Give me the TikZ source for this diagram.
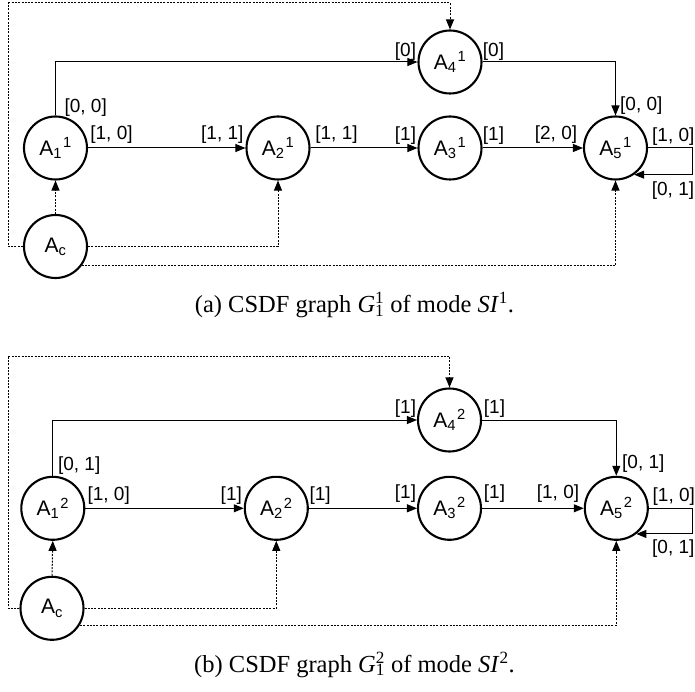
\RequirePackage{fix-cm}
\documentclass[tikz,border=0pt]{standalone}
\usepackage{fontspec}
\newfontfamily\labfont{Liberation Sans}
\newfontfamily\capfont{Liberation Serif}
\usetikzlibrary{arrows.meta}
\newcommand{\stackscr}[2]{\makebox[0pt][l]{\textsuperscript{#1}}\textsubscript{#2}}
\begin{document}
\begin{tikzpicture}[x=1pt,y=-1pt,
  actor/.style={circle,draw,line width=2.1pt,minimum size=63pt,inner sep=0pt,font=\labfont\fontsize{21}{24}\selectfont},
  edge/.style={line width=1pt,-{Triangle[length=10pt,width=8pt]}},
  ctrl/.style={edge,dash pattern=on 2pt off 1.3pt},
  ctrlline/.style={line width=1pt,dash pattern=on 2pt off 1.3pt},
  lab/.style={inner sep=0pt,font=\labfont\fontsize{19}{22}\selectfont},
  captext/.style={inner sep=0pt,anchor=base,font=\capfont\fontsize{24.5}{28}\selectfont}]
\useasboundingbox (0,0) rectangle (695,692);

% ---------- graph (a) ----------
\node[actor] (a1) at (55.5,148) {A\textsubscript{1}\kern1pt\textsuperscript{1}};
\node[actor] (a2) at (278,148) {A\textsubscript{2}\kern1pt\textsuperscript{1}};
\node[actor] (a3) at (450,148) {A\textsubscript{3}\kern1pt\textsuperscript{1}};
\node[actor] (a4) at (450,62) {A\textsubscript{4}\kern1pt\textsuperscript{1}};
\node[actor] (a5) at (615.5,148) {A\textsubscript{5}\kern1pt\textsuperscript{1}};
\node[actor] (ac) at (55.5,246.5) {A\textsubscript{c}};
\coordinate (atl) at (8.3,3);
\coordinate (aloop) at (692.3,148);

\draw[edge] (a1.east) -- (a2.west);
\draw[edge] (a2.east) -- (a3.west);
\draw[edge] (a3.east) -- (a5.west);
\draw[edge] (a1.north) |- (a4.west);
\draw[edge] (a4.east) -| (a5.north);
\draw[edge] (a5.east) -- (aloop) |- (a5.-55);
\draw[ctrl] (ac.north) -- (a1.south);
\draw[ctrl] (ac.east) -| (a2.south);
\draw[ctrl] (ac.-36) -| (a5.south);
\draw[ctrlline] (ac.west) -| (atl);
\draw[ctrl] (atl) -| (a4.north);

\node[lab] (la1) at (85.7,107.5) {[0, 0]};
\node[lab] (la2) at (111.5,134.7) {[1, 0]};
\node[lab] (la3) at (222.3,134.7) {[1, 1]};
\node[lab] (la4) at (336.5,134.7) {[1, 1]};
\node[lab] (la5) at (405.5,135.3) {[1]};
\node[lab] (la6) at (493.5,135.3) {[1]};
\node[lab] (la7) at (556,135) {[2, 0]};
\node[lab] (la8) at (405.5,51.7) {[0]};
\node[lab] (la9) at (493.5,51.7) {[0]};
\node[lab] (la10) at (641.3,105.8) {[0, 0]};
\node[lab] (la11) at (673.3,136.5) {[1, 0]};
\node[lab] (la12) at (673,190.8) {[0, 1]};

\node[captext] (capa) at (354.5,312.7) {(a)\ CSDF graph \textit{G}\stackscr{1}{1} of mode \textit{SI}\textsuperscript{1}.};

% ---------- graph (b) ----------
\node[actor] (b1) at (52.8,508.3) {A\textsubscript{1}\kern1pt\textsuperscript{2}};
\node[actor] (b2) at (276.3,508.3) {A\textsubscript{2}\kern1pt\textsuperscript{2}};
\node[actor] (b3) at (449.5,508.3) {A\textsubscript{3}\kern1pt\textsuperscript{2}};
\node[actor] (b4) at (449.5,420) {A\textsubscript{4}\kern1pt\textsuperscript{2}};
\node[actor] (b5) at (616.3,508.3) {A\textsubscript{5}\kern1pt\textsuperscript{2}};
\node[actor] (bc) at (52,608.3) {A\textsubscript{c}};
\coordinate (btl) at (8.3,356);
\coordinate (bloop) at (692.7,508.3);

\draw[edge] (b1.east) -- (b2.west);
\draw[edge] (b2.east) -- (b3.west);
\draw[edge] (b3.east) -- (b5.west);
\draw[edge] (b1.north) |- (b4.west);
\draw[edge] (b4.east) -| (b5.north);
\draw[edge] (b5.east) -- (bloop) |- (b5.-52);
\draw[ctrl] (bc.north) -- (b1.south);
\draw[ctrl] (bc.east) -| (b2.south);
\draw[ctrl] (bc.-31) -| (b5.south);
\draw[ctrlline] (bc.west) -| (btl);
\draw[ctrl] (btl) -| (b4.north);

\node[lab] (lb1) at (79.2,465.8) {[0, 1]};
\node[lab] (lb2) at (108.7,495.8) {[1, 0]};
\node[lab] (lb3) at (231.3,495.8) {[1]};
\node[lab] (lb4) at (320.2,495.8) {[1]};
\node[lab] (lb5) at (405.5,494) {[1]};
\node[lab] (lb6) at (494.5,494) {[1]};
\node[lab] (lb7) at (558,494) {[1, 0]};
\node[lab] (lb8) at (405.5,408.7) {[1]};
\node[lab] (lb9) at (494.5,408.7) {[1]};
\node[lab] (lb10) at (643.3,464) {[0, 1]};
\node[lab] (lb11) at (673.8,497) {[1, 0]};
\node[lab] (lb12) at (673.3,549) {[0, 1]};

\node[captext] (capb) at (354.5,672) {(b)\ CSDF graph \textit{G}\stackscr{2}{1} of mode \textit{SI}\textsuperscript{2}.};
\end{tikzpicture}
\end{document}
